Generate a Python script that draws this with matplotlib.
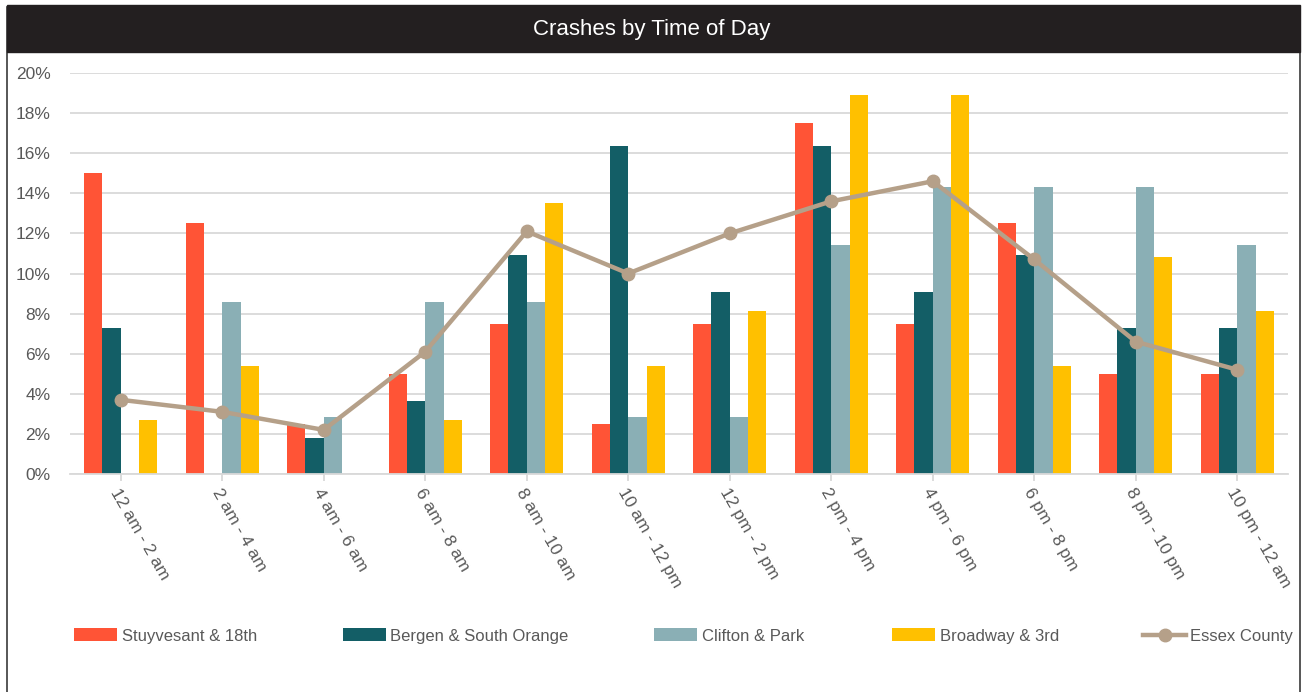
import numpy as np
import matplotlib
matplotlib.use('Agg')
import matplotlib.pyplot as plt
from matplotlib.patches import Rectangle
from matplotlib.ticker import FuncFormatter

plt.rcParams['font.family'] = ['Liberation Sans Narrow', 'Liberation Sans', 'DejaVu Sans']

periods = ['12 am - 2 am', '2 am - 4 am', '4 am - 6 am', '6 am - 8 am',
           '8 am - 10 am', '10 am - 12 pm', '12 pm - 2 pm', '2 pm - 4 pm',
           '4 pm - 6 pm', '6 pm - 8 pm', '8 pm - 10 pm', '10 pm - 12 am']

stuyvesant = [15.0, 12.5, 2.5, 5.0, 7.5, 2.5, 7.5, 17.5, 7.5, 12.5, 5.0, 5.0]
bergen = [7.27, 0.0, 1.82, 3.64, 10.91, 16.36, 9.09, 16.36, 9.09, 10.91, 7.27, 7.27]
clifton = [0.0, 8.57, 2.86, 8.57, 8.57, 2.86, 2.86, 11.43, 14.29, 14.29, 14.29, 11.43]
broadway = [2.70, 5.41, 0.0, 2.70, 13.51, 5.41, 8.11, 18.92, 18.92, 5.41, 10.81, 8.11]
essex = [3.7, 3.1, 2.2, 6.1, 12.1, 10.0, 12.0, 13.6, 14.6, 10.7, 6.6, 5.2]

series = [('Stuyvesant & 18th', stuyvesant, '#FF5436'),
          ('Bergen & South Orange', bergen, '#135E66'),
          ('Clifton & Park', clifton, '#8AAFB5'),
          ('Broadway & 3rd', broadway, '#FFC000')]

fig = plt.figure(figsize=(13.04, 6.92), dpi=100)

# outer frame and title bar
fig.patches.append(Rectangle((7 / 1304, -0.01), 1293 / 1304, 1.0, transform=fig.transFigure,
                             fill=False, edgecolor='#3A3A3A', linewidth=1.2))
fig.patches.append(Rectangle((7 / 1304, 1 - 52 / 692), 1293 / 1304, 47 / 692,
                             transform=fig.transFigure, facecolor='#231F20',
                             edgecolor='#231F20'))
fig.text(0.5, 1 - 30 / 692, 'Crashes by Time of Day', color='white', fontsize=16,
         ha='center', va='center')

ax = fig.add_axes([70 / 1304, 1 - 474 / 692, 1218 / 1304, 401 / 692])

x = np.arange(len(periods))
w = 0.18
handles = []
for i, (name, vals, col) in enumerate(series):
    h = ax.bar(x + (i - 1.5) * w, np.array(vals) / 100, w, color=col, label=name, zorder=2)
    handles.append(h)

ln, = ax.plot(x, np.array(essex) / 100, color='#B5A089', linewidth=3.2, marker='o',
              markersize=9, label='Essex County', zorder=3)
handles.append(ln)

ax.set_xlim(-0.5, len(periods) - 0.5)
ax.set_ylim(0, 0.20)
ax.set_yticks(np.arange(0, 0.201, 0.02))
ax.yaxis.set_major_formatter(FuncFormatter(lambda v, p: '%d%%' % round(v * 100)))
ax.grid(axis='y', color='#D9D9D9', linewidth=1.3, zorder=0)
ax.set_axisbelow(True)
for s in ['top', 'right', 'left']:
    ax.spines[s].set_visible(False)
ax.spines['bottom'].set_color('#D9D9D9')
ax.spines['bottom'].set_linewidth(1.3)
ax.tick_params(axis='y', length=0, labelsize=12.5, labelcolor='#595959', pad=14)
ax.tick_params(axis='x', length=5, color='#D9D9D9', width=1.3, labelsize=12.5,
               labelcolor='#595959')
ax.set_xticks(x)
ax.set_xticklabels(periods, rotation=-60, ha='left', va='top', rotation_mode='anchor')

# legend entries spread across the bottom, one legend per entry
legend_x = [74, 343, 654, 892, 1143]
for h, lx in zip(handles, legend_x):
    leg = fig.legend([h], [h.get_label()], loc='center left',
                     bbox_to_anchor=(lx / 1304, 1 - 636 / 692), frameon=False,
                     fontsize=12, labelcolor='#595959', handlelength=2.6,
                     handleheight=0.8, handletextpad=0.25, borderpad=0,
                     borderaxespad=0)

fig.savefig('out.png', dpi=100)
